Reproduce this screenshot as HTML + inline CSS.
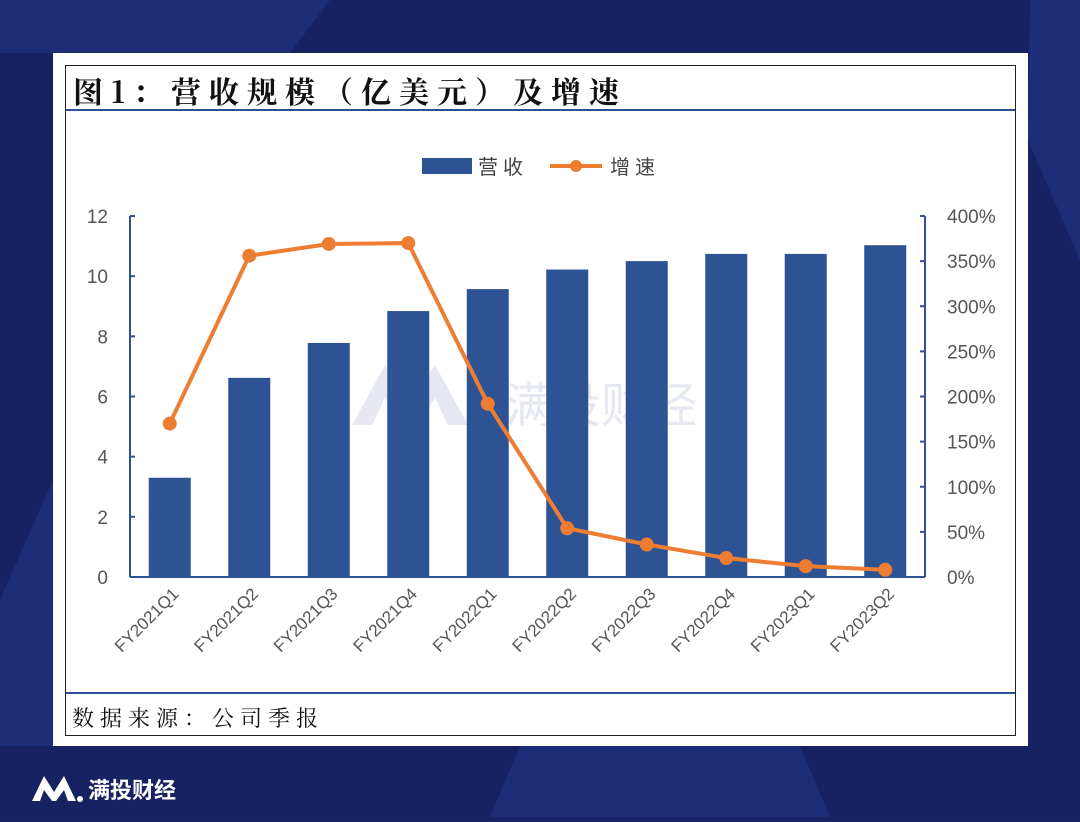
<!DOCTYPE html>
<html><head><meta charset="utf-8"><style>
body{margin:0;width:1080px;height:817px;overflow:hidden;background:#182463;font-family:"Liberation Sans","Noto Sans CJK SC",sans-serif;}
</style></head><body>
<svg width="1080" height="817" viewBox="0 0 1080 817" xmlns="http://www.w3.org/2000/svg">
<rect x="0" y="0" width="1080" height="817" fill="#172262"/>
<polygon points="0,0 330,0 290,53 0,53" fill="#1d2d78"/>
<polygon points="1030,0 1080,0 1080,260 1028,140" fill="#1d2d78"/>
<polygon points="0,600 53,480 53,746 0,746" fill="#1d2d78"/>
<polygon points="520,746 800,746 830,817 490,817" fill="#1d2d78"/>
<rect x="53" y="53" width="975" height="693" fill="#ffffff"/>
<rect x="65.5" y="65.5" width="950" height="670" fill="none" stroke="#222" stroke-width="1"/>
<text x="73" y="103" font-size="30" font-weight="bold" letter-spacing="8" fill="#111" font-family="'Noto Serif CJK SC','Noto Sans CJK SC',serif">图1：营收规模（亿美元）及增速</text>
<line x1="66" y1="110" x2="1015" y2="110" stroke="#2f4f94" stroke-width="2"/>
<line x1="66" y1="693" x2="1015" y2="693" stroke="#2f4f94" stroke-width="2"/>
<text x="72" y="726" font-size="22" letter-spacing="6" fill="#111" font-family="'Noto Serif CJK SC','Noto Sans CJK SC',serif">数据来源：公司季报</text>
<g opacity="0.55">
<path d="M352 425 L385 365 L410 400 L435 365 L468 425 L448 425 L435 398 L418 425 L402 425 L385 398 L372 425 Z" fill="#d3d6e6"/>
<text x="505" y="422" font-size="48" fill="#d3d6e6">满投财经</text>
</g>
<g>
<rect x="422" y="158" width="50" height="16" fill="#2e5395"/>
<text x="478" y="174" font-size="20" letter-spacing="5" fill="#444">营收</text>
<line x1="550" y1="166" x2="602" y2="166" stroke="#ed7d31" stroke-width="4"/>
<circle cx="576" cy="166" r="6" fill="#ed7d31"/>
<text x="610" y="174" font-size="20" letter-spacing="5" fill="#444">增速</text>
</g>
<g id="plot"></g>
<g>
<path d="M32 801 L44 776 L54 792 L64 776 L76 801 L68 801 L64 790 L56 801 L52 801 L44 790 L40 801 Z" fill="#fff"/>
<circle cx="80" cy="799" r="3" fill="#fff"/>
<text x="88" y="798" font-size="22" fill="#fff" font-weight="bold">满投财经</text>
</g>
</svg>
<script>
const categories=["FY2021Q1","FY2021Q2","FY2021Q3","FY2021Q4","FY2022Q1","FY2022Q2","FY2022Q3","FY2022Q4","FY2023Q1","FY2023Q2"];
const revenue=[3.3,6.62,7.78,8.84,9.57,10.22,10.5,10.74,10.74,11.03];
const growth=[170,356,369,370,192,54,36,21,12,8];
const leftTicks=[0,2,4,6,8,10,12];
const rightTicks=[0,50,100,150,200,250,300,350,400];
const NS="http://www.w3.org/2000/svg";
const g=document.getElementById('plot');
const X0=130,X1=925,Y0=577,Y1=216;
const bw=(X1-X0)/categories.length;
const xc=i=>X0+bw*(i+0.5);
const yL=v=>Y0-(v/12)*(Y0-Y1);
const yR=v=>Y0-(v/400)*(Y0-Y1);
function mk(t,a){const e=document.createElementNS(NS,t);for(const k in a)e.setAttribute(k,a[k]);g.appendChild(e);return e;}
revenue.forEach((v,i)=>{const r=mk('rect',{x:xc(i)-21,y:yL(v),width:42,height:Y0-yL(v),fill:'#2e5395'});

});
const axL=mk('line',{x1:X0,y1:Y1,x2:X0,y2:Y0,stroke:'#2e5395','stroke-width':2});


const axR=mk('line',{x1:X1,y1:Y1,x2:X1,y2:Y0,stroke:'#2e5395','stroke-width':2});


const axB=mk('line',{x1:X0,y1:Y0,x2:X1,y2:Y0,stroke:'#2e5395','stroke-width':2});


leftTicks.forEach(v=>{mk('line',{x1:X0,y1:yL(v),x2:X0+5,y2:yL(v),stroke:'#2e5395','stroke-width':2});
const t=mk('text',{x:X0-22,y:yL(v)+7,'font-size':19,fill:'#555','text-anchor':'end'});t.textContent=v;

});
rightTicks.forEach(v=>{mk('line',{x1:X1-5,y1:yR(v),x2:X1,y2:yR(v),stroke:'#2e5395','stroke-width':2});
const t=mk('text',{x:X1+22,y:yR(v)+7,'font-size':19,fill:'#555'});t.textContent=v+'%';

});
categories.forEach((c,i)=>{const x=xc(i)+10,y=Y0+18;
const t=mk('text',{x:x,y:y,'font-size':17,fill:'#555','text-anchor':'end',transform:`rotate(-45 ${x} ${y})`});t.textContent=c;

});
const pl=mk('polyline',{points:growth.map((v,i)=>xc(i)+','+yR(v)).join(' '),fill:'none',stroke:'#ed7d31','stroke-width':4});


growth.forEach((v,i)=>{const c=mk('circle',{cx:xc(i),cy:yR(v),r:7,fill:'#ed7d31'});

});
</script>
</body></html>
